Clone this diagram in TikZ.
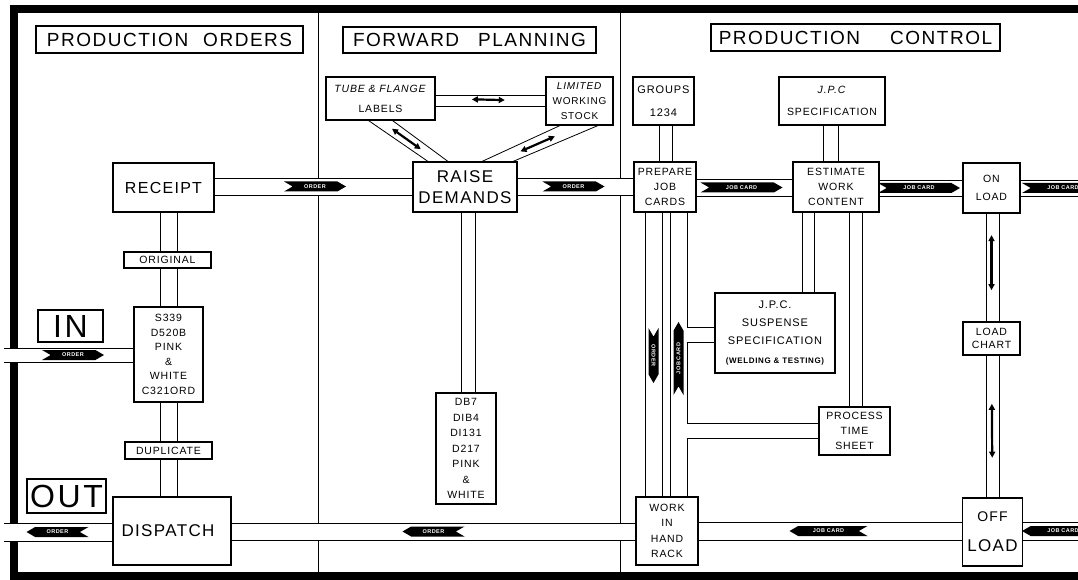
\documentclass[tikz,border=0pt]{standalone}
\usepackage{fontspec}
\setmainfont{Liberation Sans}[LetterSpace=8]
\usepackage{tikz}
\usetikzlibrary{shapes.symbols, arrows.meta, calc}

\tikzset{
  box/.style={draw, line width=1.1pt, fill=white, inner sep=0pt, align=center},
  header/.style={box, font=\fontsize{19}{22}\selectfont},
  chan/.style={line width=0.8pt},
  divider/.style={line width=0.9pt},
  flag/.style={signal, signal to=east, signal from=west, signal pointer angle=60,
    fill=black, text=white, inner sep=0.5pt, minimum height=10pt, minimum width=62pt,
    font=\fontsize{5.5}{6}\selectfont\bfseries},
  backflag/.style={flag, signal to=west, signal from=east},
  biarrow/.style={line width=2.2pt, {Triangle[length=6pt,width=6pt]}-{Triangle[length=6pt,width=6pt]}},
}

% channel = two parallel walls between two nodes
\newcommand{\hchan}[4]{%
  \fill[white] (#1 |- 0,#3) rectangle (#2 |- 0,#4);
  \draw[chan] (#1 |- 0,#3) -- (#2 |- 0,#3) (#1 |- 0,#4) -- (#2 |- 0,#4);}
\newcommand{\vchan}[4]{%
  \fill[white] (#1 -| #3,0) rectangle (#2 -| #4,0);
  \draw[chan] (#1 -| #3,0) -- (#2 -| #3,0) (#1 -| #4,0) -- (#2 -| #4,0);}

\begin{document}
\begin{tikzpicture}[x=1pt, y=-1pt]
    \useasboundingbox (0,0) rectangle (1078,580);
    \clip (0,0) rectangle (1078,580);

    \draw[line width=8pt] (1090,9) -- (14,9) -- (14,576) -- (1090,576);
    \draw[divider] (318,9) -- (318,576) (620,9) -- (620,576);
    \coordinate (leftedge) at (4,0);
    \coordinate (rightedge) at (1090,0);

    % headings
    \node[header, minimum width=267pt, minimum height=27pt] (orders) at (169.5,39.5) {PRODUCTION\hspace{15pt}ORDERS};
    \node[header, minimum width=253pt, minimum height=26pt] (planning) at (469.5,40) {FORWARD\hspace{19pt}PLANNING};
    \node[header, minimum width=289pt, minimum height=27pt] (control) at (855.5,37.5) {PRODUCTION\hspace{30pt}CONTROL};

    % production orders
    \node[box, font=\fontsize{16}{20}\selectfont, minimum width=101pt, minimum height=49pt] (receipt) at (163.5,187.5) {RECEIPT};
    \node[box, font=\fontsize{10.5}{12}\selectfont, minimum width=87pt, minimum height=16pt] (original) at (167.5,260) {ORIGINAL};
    \node[box, font=\fontsize{10.5}{14.5}\selectfont, minimum width=69pt, minimum height=95pt] (forms) at (168.5,354.5) {S339\\D520B\\PINK\\\&\\WHITE\\C321ORD};
    \node[box, font=\fontsize{10.5}{12}\selectfont, minimum width=87pt, minimum height=17pt] (duplicate) at (168.5,450.5) {DUPLICATE};
    \node[box, font=\fontsize{17}{20}\selectfont, minimum width=118pt, minimum height=68pt] (dispatch) at (172,531) {DISPATCH\hspace{8pt}};
    \node[box, font=\fontsize{32}{34}\selectfont, minimum width=65pt, minimum height=32pt] (inlabel) at (70.5,326) {IN};
    \node[box, font=\fontsize{32}{34}\selectfont, minimum width=79pt, minimum height=34pt] (outlabel) at (66.5,496) {OUT};

    % forward planning
    \node[box, font=\fontsize{10.5}{20}\selectfont, minimum width=109pt, minimum height=43pt] (tube) at (380.5,98.5) {\textit{TUBE \& FLANGE}\\LABELS};
    \node[box, font=\fontsize{10}{15}\selectfont, minimum width=67pt, minimum height=48pt] (stock) at (579.5,101) {\textit{LIMITED}\\WORKING\\STOCK};
    \node[box, font=\fontsize{17}{21}\selectfont, minimum width=104pt, minimum height=50pt] (raise) at (465,187) {RAISE\\DEMANDS};
    \node[box, font=\fontsize{10.5}{15.5}\selectfont, minimum width=60pt, minimum height=111pt] (forms2) at (466,448.5) {DB7\\DIB4\\DI131\\D217\\PINK\\\&\\WHITE};

    % production control
    \node[box, font=\fontsize{11}{23}\selectfont, minimum width=61pt, minimum height=48pt] (groups) at (663.5,101) {GROUPS\\1234};
    \node[box, font=\fontsize{10.5}{15}\selectfont, minimum width=62pt, minimum height=50pt] (prepare) at (665,187) {PREPARE\\JOB\\CARDS};
    \node[box, font=\fontsize{10.5}{22}\selectfont, minimum width=106pt, minimum height=48pt] (jpcspec) at (832,101) {\textit{J.P.C}\\SPECIFICATION};
    \node[box, font=\fontsize{10.5}{15}\selectfont, minimum width=86pt, minimum height=50pt] (estimate) at (836,187) {ESTIMATE\\WORK\\CONTENT};
    \node[box, font=\fontsize{10.5}{18}\selectfont, minimum width=57pt, minimum height=50pt] (onload) at (991.5,188) {ON\\LOAD};
    \node[box, font=\fontsize{10.5}{13}\selectfont, minimum width=57pt, minimum height=33pt] (loadchart) at (991.5,338.5) {LOAD\\CHART};
    \node[box, font=\fontsize{17}{30}\selectfont, minimum width=60pt, minimum height=68pt] (offload) at (992.5,532) {{\fontsize{14}{30}\selectfont OFF}\\LOAD};
    \node[box, font=\fontsize{11}{18}\selectfont, minimum width=120pt, minimum height=80pt] (suspense) at (775,333) {J.P.C.\\SUSPENSE\\SPECIFICATION\\[1pt]{\fontsize{8}{10}\selectfont\bfseries(WELDING \& TESTING)}};
    \node[box, font=\fontsize{10.5}{15}\selectfont, minimum width=71pt, minimum height=48pt] (process) at (854.5,431) {PROCESS\\TIME\\SHEET};
    \node[box, font=\fontsize{10.5}{15.5}\selectfont, minimum width=62pt, minimum height=68pt] (workhand) at (667,531) {WORK\\IN\\HAND\\RACK};

    % channels
    \hchan{receipt.east}{raise.west}{178}{195}
    \hchan{raise.east}{prepare.west}{178}{195}
    \hchan{prepare.east}{estimate.west}{179}{196}
    \hchan{estimate.east}{onload.west}{180}{196}
    \hchan{onload.east}{rightedge}{180}{196}
    \hchan{leftedge}{forms.west}{348}{362}
    \hchan{leftedge}{dispatch.west}{523}{541}
    \hchan{dispatch.east}{workhand.west}{523}{540}
    \hchan{workhand.east}{offload.west}{522}{540}
    \hchan{offload.east}{rightedge}{522}{540}
    \hchan{tube.east}{stock.west}{95}{106}
    \vchan{receipt.south}{original.north}{160}{177}
    \vchan{original.south}{forms.north}{160}{177}
    \vchan{forms.south}{duplicate.north}{160}{177}
    \vchan{duplicate.south}{dispatch.north}{160}{177}
    \vchan{raise.south}{forms2.north}{461}{475}
    \vchan{groups.south}{prepare.north}{659}{672}
    \vchan{jpcspec.south}{estimate.north}{823}{838}
    \vchan{estimate.south}{suspense.north}{802}{814}
    \vchan{estimate.south}{process.north}{849}{862}
    \vchan{onload.south}{loadchart.north}{986}{999}
    \vchan{loadchart.south}{offload.north}{986}{999}
    \vchan{prepare.south}{workhand.north}{645}{662}
    \draw[chan] (prepare.south -| 670,0) -- (workhand.north -| 670,0);
    \draw[chan] (prepare.south -| 687,0) |- (suspense.west |- 0,327);
    \draw[chan] (suspense.west |- 0,342) -| (687,423) -- (process.west |- 0,423);
    \draw[chan] (process.west |- 0,438) -| (workhand.north -| 687,0);
    \draw[chan] ($(tube.south)+(-12,0)$) -- ($(raise.north)+(-37,0)$)
                ($(tube.south)+(12,0)$) -- ($(raise.north)+(-17,0)$)
                ($(stock.south)+(-19.5,0)$) -- ($(raise.north)+(17,0)$)
                ($(stock.south)+(18.5,0)$) -- ($(raise.north)+(48,0)$);

    % flow arrows
    \node[flag] (orderflag1) at (315,186.5) {ORDER};
    \node[flag] (orderflag2) at (573.5,186.5) {ORDER};
    \node[flag, minimum width=82pt] (cardflag1) at (741.5,187.5) {JOB CARD};
    \node[flag, minimum width=82pt] (cardflag2) at (919,188) {JOB CARD};
    \node[flag, minimum width=82pt] (cardflag3) at (1063,188) {JOB CARD};
    \node[flag] (orderflag3) at (73,355) {ORDER};
    \node[backflag] (orderflag4) at (57.5,532) {ORDER};
    \node[backflag] (orderflag5) at (433.5,531.5) {ORDER};
    \node[backflag, minimum width=78pt] (cardflag4) at (828.5,531) {JOB CARD};
    \node[backflag, minimum width=82pt] (cardflag5) at (1063,531) {JOB CARD};
    \node[flag, rotate=-90, minimum width=55pt] (orderflag6) at (653.5,355.5) {ORDER};
    \node[flag, rotate=90, minimum width=73pt] (cardflag6) at (678.5,358.5) {JOB CARD};

    \coordinate (tubechan) at ($(raise.north)+(-27,0)$);
    \coordinate (stockchan) at ($(raise.north)+(32.5,0)$);
    \draw[biarrow] ($(tube.east)!.33!(stock.west)$) -- ($(tube.east)!.63!(stock.west)$);
    \draw[biarrow] ($(tube.south)!.2!(tubechan)$) -- ($(tube.south)!.7!(tubechan)$);
    \draw[biarrow] ($(stock.south)!.3!(stockchan)$) -- ($(stock.south)!.72!(stockchan)$);
    \draw[biarrow] ($(onload.south)!.2!(loadchart.north)$) -- ($(onload.south)!.71!(loadchart.north)$);
    \draw[biarrow] ($(loadchart.south)!.34!(offload.north)$) -- ($(loadchart.south)!.72!(offload.north)$);
\end{tikzpicture}
\end{document}
